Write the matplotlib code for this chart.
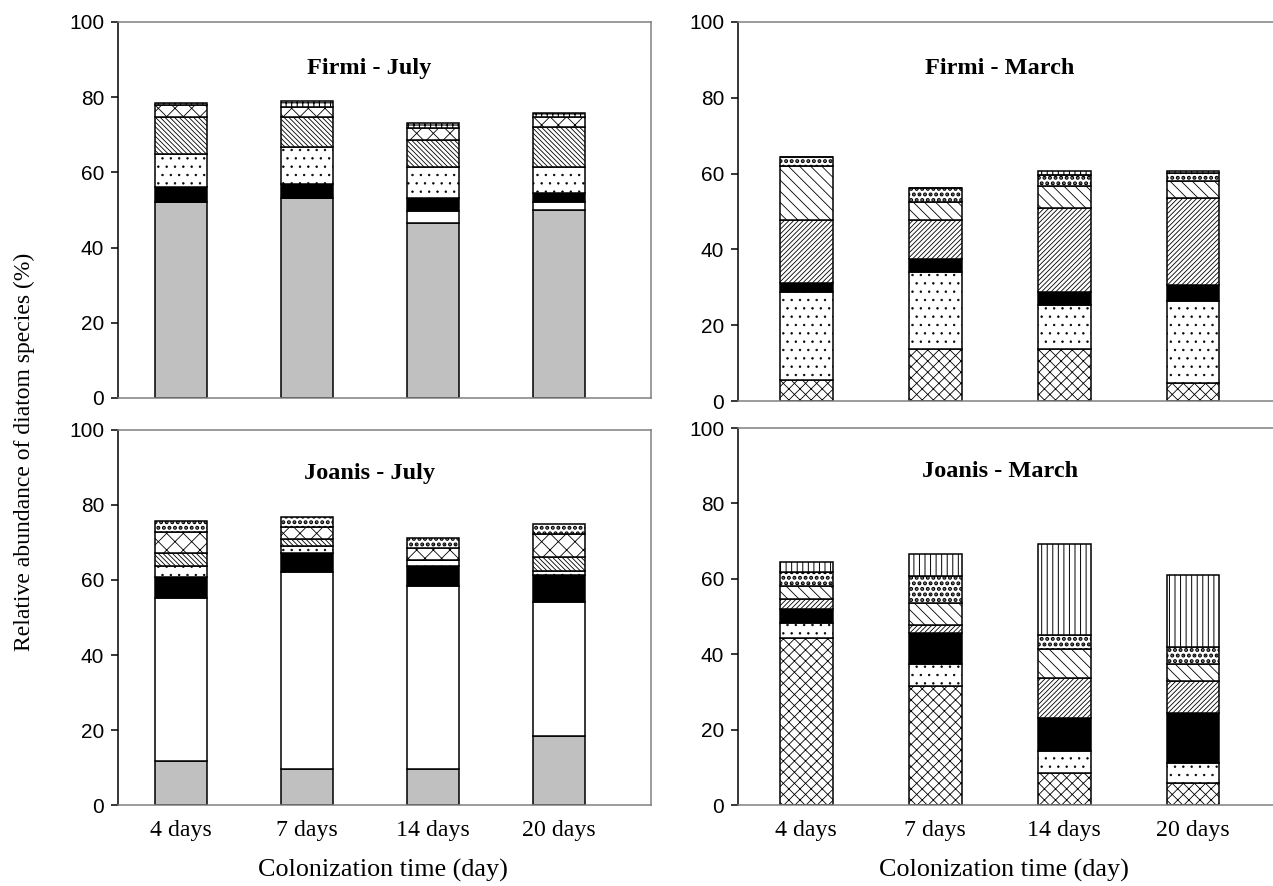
import numpy as np
import matplotlib
matplotlib.use('Agg')
import matplotlib.pyplot as plt

plt.rcParams['hatch.linewidth'] = 0.6

days = ['4 days', '7 days', '14 days', '20 days']

# Firmi - July (stacked from bottom)
fj_gray = [52.2, 53.1, 46.5, 50.0]
fj_white = [0.0, 0.0, 3.3, 2.2]
fj_black = [3.9, 3.8, 3.3, 2.2]
fj_dots = [8.7, 9.8, 8.2, 6.9]
fj_bslash = [9.9, 8.0, 7.3, 10.9]
fj_cross = [3.1, 2.8, 3.1, 2.6]
fj_brick = [0.6, 1.4, 1.3, 0.9]

# Firmi - March
fm_smallx = [5.5, 13.6, 13.6, 4.7]
fm_dots = [23.2, 20.4, 11.6, 21.8]
fm_black = [2.5, 3.5, 3.5, 4.0]
fm_fslash = [16.6, 10.3, 22.1, 23.0]
fm_lightbs = [14.3, 4.6, 5.9, 4.5]
fm_heavy = [2.2, 3.9, 2.8, 2.1]
fm_brick = [0.0, 0.0, 1.3, 0.7]

# Joanis - July
jj_gray = [11.7, 9.6, 9.6, 18.4]
jj_white = [43.5, 52.5, 48.8, 35.8]
jj_black = [5.5, 5.0, 5.3, 7.1]
jj_dots = [3.1, 2.0, 1.6, 1.2]
jj_bslash = [3.3, 1.8, 0.0, 3.6]
jj_cross = [5.8, 3.3, 3.1, 6.1]
jj_heavy = [2.9, 2.5, 2.9, 2.7]

# Joanis - March
jm_smallx = [44.4, 31.6, 8.6, 5.9]
jm_dots = [3.8, 5.7, 5.7, 5.3]
jm_black = [3.8, 8.4, 8.9, 13.3]
jm_fslash = [2.6, 2.0, 10.6, 8.4]
jm_lightbs = [3.5, 6.0, 7.6, 4.5]
jm_heavy = [3.8, 7.1, 3.7, 4.6]
jm_vert = [2.5, 5.7, 24.1, 19.0]

# fill styles: (facecolor, hatch, hatch line width)
GRAY = ('#c0c0c0', None, 0.6)
WHITE = ('white', None, 0.6)
BLACK = ('black', None, 0.6)
DOTS = ('white', '..', 0.5)
BSLASH = ('white', '\\' * 7, 0.6)
CROSS = ('white', 'xx', 0.6)
BRICK = ('white', '+++', 0.8)
SMALLX = ('white', 'xxx', 0.6)
FSLASH = ('white', '/' * 7, 0.6)
LIGHTBS = ('white', '\\' * 3, 0.6)
HEAVY = ('white', '...', 2.0)
VERT = ('white', '|||', 0.7)

panels = [
    ('Firmi - July', [(fj_gray, GRAY), (fj_white, WHITE), (fj_black, BLACK), (fj_dots, DOTS),
                      (fj_bslash, BSLASH), (fj_cross, CROSS), (fj_brick, BRICK)]),
    ('Firmi - March', [(fm_smallx, SMALLX), (fm_dots, DOTS), (fm_black, BLACK), (fm_fslash, FSLASH),
                       (fm_lightbs, LIGHTBS), (fm_heavy, HEAVY), (fm_brick, BRICK)]),
    ('Joanis - July', [(jj_gray, GRAY), (jj_white, WHITE), (jj_black, BLACK), (jj_dots, DOTS),
                       (jj_bslash, BSLASH), (jj_cross, CROSS), (jj_heavy, HEAVY)]),
    ('Joanis - March', [(jm_smallx, SMALLX), (jm_dots, DOTS), (jm_black, BLACK), (jm_fslash, FSLASH),
                        (jm_lightbs, LIGHTBS), (jm_heavy, HEAVY), (jm_vert, VERT)]),
]

# axes boxes in figure fractions
boxes = [
    [0.0927, 0.5508, 0.4187, 0.4244],
    [0.5797, 0.5474, 0.4203, 0.4278],
    [0.0927, 0.0914, 0.4187, 0.4233],
    [0.5797, 0.0914, 0.4203, 0.4255],
]

fig = plt.figure(figsize=(12.73, 8.86), dpi=100)
x = np.arange(len(days))
serif = 'Liberation Serif'
sans = 'Liberation Sans'

for i, ((title, layers), box) in enumerate(zip(panels, boxes)):
    ax = fig.add_axes(box)
    bottom = np.zeros(len(days))
    for vals, (fc, hatch, hlw) in layers:
        bars = ax.bar(x, vals, width=0.41, bottom=bottom, color=fc, edgecolor='black',
                      linewidth=1.1, hatch=hatch, zorder=2)
        for b in bars:
            if hasattr(b, 'set_hatch_linewidth'):
                b.set_hatch_linewidth(hlw)
        bottom += np.array(vals)
    right = i % 2 == 1
    ax.set_ylim(0, 100)
    ax.set_xlim(-0.53, 3.62) if right else ax.set_xlim(-0.5, 3.73)
    ax.set_yticks(range(0, 101, 20))
    ax.tick_params(axis='y', direction='out', length=5, width=1.1, labelsize=15, pad=5)
    for lab in ax.get_yticklabels():
        lab.set_family(sans)
    ax.set_xticks(x)
    ax.tick_params(axis='x', length=0, pad=11)
    if i >= 2:
        ax.set_xticklabels(days, family=serif, fontsize=17.2)
    else:
        ax.set_xticklabels([])
    ax.spines['left'].set_color('black')
    ax.spines['left'].set_linewidth(1.1)
    for s in ['top', 'right', 'bottom']:
        ax.spines[s].set_color('#808080')
        ax.spines[s].set_linewidth(1.1)
    if right:
        ax.spines['right'].set_visible(False)
    tx = 0.49 if right else 0.472
    ty = 0.876 if i < 2 else 0.885
    ax.text(tx, ty, title, transform=ax.transAxes, ha='center', va='center',
            family=serif, fontweight='bold', fontsize=17.5)

fig.text(0.019, 0.49, 'Relative abundance of diatom species (%)', rotation=90,
         ha='center', va='center', family=serif, fontsize=17)
fig.text(0.301, 0.018, 'Colonization time (day)', ha='center', va='center',
         family=serif, fontsize=18.8)
fig.text(0.789, 0.018, 'Colonization time (day)', ha='center', va='center',
         family=serif, fontsize=18.8)

fig.savefig('out.png', dpi=100)
